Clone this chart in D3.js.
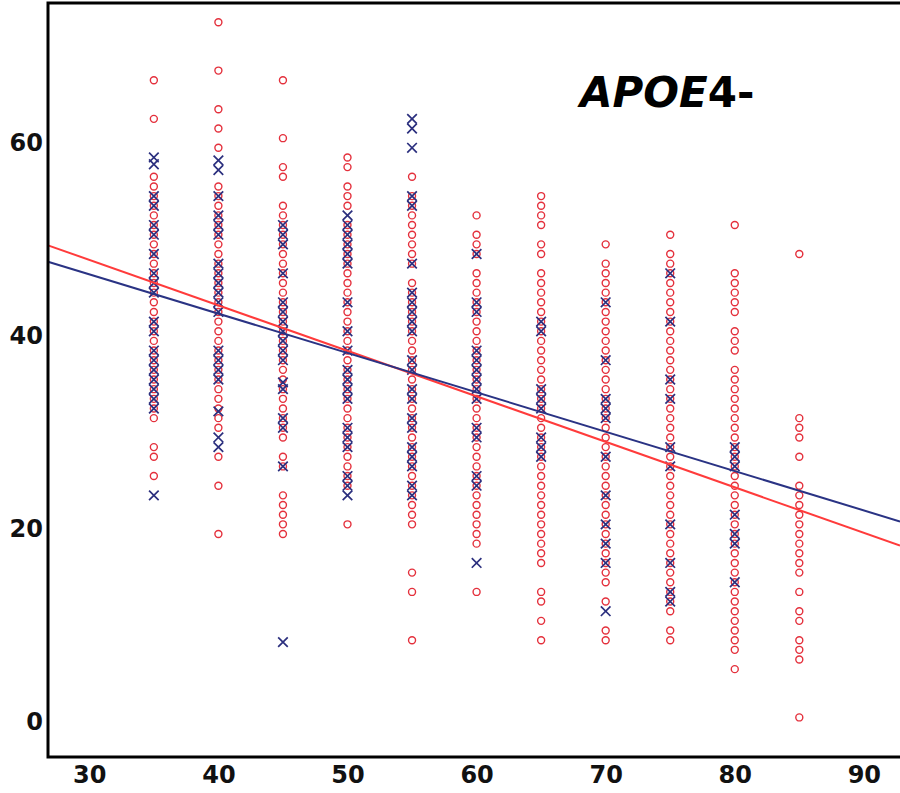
<!DOCTYPE html>
<html>
<head>
<meta charset="utf-8">
<script src="https://cdn.jsdelivr.net/npm/d3@7"></script>
<style>
  html, body { margin: 0; padding: 0; background: #fff; }
  svg { display: block; }
  .tick text { font-family: "DejaVu Sans", sans-serif; font-weight: bold; }
</style>
</head>
<body>
<svg id="chart" width="900" height="793"></svg>
<script>
// age groups (x) and scores per group
const ages = [35, 40, 45, 50, 55, 60, 65, 70, 75, 80, 85];

// red circles: group A
const circleVals = [
  [66.5, 62.5, 56.5, 55.5, 54.5, 53.5, 52.5, 51.5, 50.5, 49.5, 48.5, 47.5, 46.5, 45.5, 44.5, 43.5, 42.5, 41.5, 40.5, 39.5, 38.5, 37.5, 36.5, 35.5, 34.5, 33.5, 32.5, 31.5, 28.5, 27.5, 25.5],
  [72.5, 67.5, 63.5, 61.5, 59.5, 55.5, 54.5, 53.5, 52.5, 51.5, 50.5, 49.5, 48.5, 47.5, 46.5, 45.5, 44.5, 43.5, 42.5, 41.5, 40.5, 39.5, 38.5, 37.5, 36.5, 35.5, 34.5, 33.5, 32.5, 31.5, 30.5, 27.5, 24.5, 19.5],
  [66.5, 60.5, 57.5, 56.5, 53.5, 52.5, 51.5, 50.5, 49.5, 48.5, 47.5, 46.5, 45.5, 44.5, 43.5, 42.5, 41.5, 40.5, 39.5, 38.5, 37.5, 36.5, 35.5, 34.5, 33.5, 32.5, 31.5, 30.5, 29.5, 27.5, 26.5, 23.5, 22.5, 21.5, 20.5, 19.5],
  [58.5, 57.5, 55.5, 54.5, 53.5, 51.5, 50.5, 49.5, 48.5, 47.5, 46.5, 45.5, 44.5, 43.5, 42.5, 41.5, 40.5, 39.5, 38.5, 37.5, 36.5, 35.5, 34.5, 33.5, 32.5, 31.5, 30.5, 29.5, 28.5, 27.5, 26.5, 25.5, 24.5, 20.5],
  [56.5, 54.5, 53.5, 52.5, 51.5, 50.5, 49.5, 48.5, 47.5, 45.5, 44.5, 43.5, 42.5, 41.5, 40.5, 39.5, 38.5, 37.5, 36.5, 35.5, 34.5, 33.5, 32.5, 31.5, 30.5, 29.5, 28.5, 27.5, 26.5, 25.5, 24.5, 23.5, 22.5, 21.5, 20.5, 15.5, 13.5, 8.5],
  [52.5, 50.5, 49.5, 48.5, 46.5, 45.5, 44.5, 43.5, 42.5, 41.5, 40.5, 39.5, 38.5, 37.5, 36.5, 35.5, 34.5, 33.5, 32.5, 31.5, 30.5, 29.5, 28.5, 27.5, 26.5, 25.5, 24.5, 23.5, 22.5, 21.5, 20.5, 19.5, 18.5, 13.5],
  [54.5, 53.5, 52.5, 51.5, 49.5, 48.5, 46.5, 45.5, 44.5, 43.5, 42.5, 41.5, 40.5, 39.5, 38.5, 37.5, 36.5, 35.5, 34.5, 33.5, 32.5, 31.5, 30.5, 29.5, 28.5, 27.5, 26.5, 25.5, 24.5, 23.5, 22.5, 21.5, 20.5, 19.5, 18.5, 17.5, 16.5, 13.5, 12.5, 10.5, 8.5],
  [49.5, 47.5, 46.5, 45.5, 44.5, 43.5, 42.5, 41.5, 40.5, 39.5, 38.5, 37.5, 36.5, 35.5, 34.5, 33.5, 32.5, 31.5, 30.5, 29.5, 28.5, 27.5, 26.5, 25.5, 24.5, 23.5, 22.5, 21.5, 20.5, 19.5, 18.5, 17.5, 16.5, 15.5, 14.5, 12.5, 9.5, 8.5],
  [50.5, 48.5, 47.5, 46.5, 45.5, 44.5, 43.5, 42.5, 41.5, 40.5, 39.5, 38.5, 37.5, 36.5, 35.5, 34.5, 33.5, 32.5, 31.5, 30.5, 29.5, 28.5, 27.5, 26.5, 25.5, 24.5, 23.5, 22.5, 21.5, 20.5, 19.5, 18.5, 17.5, 16.5, 15.5, 14.5, 13.5, 12.5, 11.5, 9.5, 8.5],
  [51.5, 46.5, 45.5, 44.5, 43.5, 42.5, 40.5, 39.5, 38.5, 36.5, 35.5, 34.5, 33.5, 32.5, 31.5, 30.5, 29.5, 28.5, 27.5, 26.5, 25.5, 24.5, 23.5, 22.5, 21.5, 20.5, 19.5, 18.5, 17.5, 16.5, 15.5, 14.5, 13.5, 12.5, 11.5, 10.5, 9.5, 8.5, 7.5, 5.5],
  [48.5, 31.5, 30.5, 29.5, 27.5, 24.5, 23.5, 22.5, 21.5, 20.5, 19.5, 18.5, 17.5, 16.5, 15.5, 13.5, 11.5, 10.5, 8.5, 7.5, 6.5, 0.5]
];

// navy crosses: group B
const crossVals = [
  [58.5, 57.8, 54.5, 53.5, 51.5, 50.5, 48.5, 46.5, 45.5, 44.5, 41.5, 40.5, 38.5, 37.5, 36.5, 35.5, 34.5, 33.5, 32.5, 23.5],
  [58.2, 57.2, 54.5, 52.5, 51.5, 50.5, 47.5, 46.5, 45.5, 44.5, 43.5, 42.5, 38.5, 37.5, 36.5, 35.5, 32.2, 29.5, 28.5],
  [51.5, 50.5, 49.5, 46.5, 43.5, 42.5, 41.5, 40.5, 39.5, 38.5, 37.5, 35.2, 34.5, 31.5, 30.5, 26.5, 8.3],
  [52.5, 51.5, 50.5, 49.5, 48.5, 47.5, 43.5, 40.5, 38.5, 36.5, 35.5, 34.5, 33.5, 30.5, 29.5, 28.5, 25.5, 24.5, 23.5],
  [62.5, 61.5, 59.5, 54.5, 53.5, 47.5, 44.5, 43.5, 42.5, 41.5, 40.5, 37.5, 36.5, 34.5, 33.5, 31.5, 30.5, 28.5, 27.5, 26.5, 24.5, 23.5],
  [48.5, 43.5, 42.5, 38.5, 37.5, 36.5, 35.5, 34.5, 33.5, 30.5, 29.5, 25.5, 24.5, 16.5],
  [41.5, 40.5, 34.5, 33.5, 32.5, 29.5, 28.5, 27.5],
  [43.5, 37.5, 33.5, 32.5, 31.5, 27.5, 23.5, 20.5, 18.5, 16.5, 11.5],
  [46.5, 41.5, 35.5, 33.5, 28.5, 26.5, 20.5, 16.5, 13.5, 12.5],
  [28.5, 27.5, 26.5, 21.5, 19.5, 18.5, 14.5],
  []
];

// fitted lines, end points at the axis limits
const lineX = [26.8, 92.8];
const redLineY = [49.4, 18.3];
const blueLineY = [47.7, 20.8];

const xTicks = [30, 40, 50, 60, 70, 80, 90];
const yTicks = [0, 20, 40, 60];

const svg = d3.select("#chart");
const W = 900, H = 793;
const margin = { top: 3, right: 0, bottom: 36, left: 48 };

const x = d3.scaleLinear().domain([26.8, 92.8]).range([margin.left, W - margin.right]);
const y = d3.scaleLinear().domain([-3.6, 74.5]).range([H - margin.bottom, margin.top]);

const RED = "#e4303c", NAVY = "#2b2f7e";

const plot = svg.append("g");

// circles
const circles = [];
ages.forEach((a, i) => circleVals[i].forEach(v => circles.push({ a, v })));
plot.selectAll("circle.pt")
  .data(circles)
  .enter().append("circle")
  .attr("class", "pt")
  .attr("cx", d => x(d.a))
  .attr("cy", d => y(d.v))
  .attr("r", 3.5)
  .attr("fill", "none")
  .attr("stroke", RED)
  .attr("stroke-width", 1.4);

// crosses
const crosses = [];
ages.forEach((a, i) => crossVals[i].forEach(v => crosses.push({ a, v })));
const s = 4.8;
plot.selectAll("path.cross")
  .data(crosses)
  .enter().append("path")
  .attr("class", "cross")
  .attr("d", d => {
    const cx = x(d.a), cy = y(d.v);
    return `M${cx - s},${cy - s}L${cx + s},${cy + s}M${cx - s},${cy + s}L${cx + s},${cy - s}`;
  })
  .attr("stroke", NAVY)
  .attr("stroke-width", 1.7)
  .attr("fill", "none");

// regression lines
const line = d3.line().x(d => x(d[0])).y(d => y(d[1]));
plot.append("path")
  .attr("d", line(lineX.map((v, i) => [v, redLineY[i]])))
  .attr("stroke", "#ff3b3b").attr("stroke-width", 2).attr("fill", "none");
plot.append("path")
  .attr("d", line(lineX.map((v, i) => [v, blueLineY[i]])))
  .attr("stroke", "#2a3384").attr("stroke-width", 2).attr("fill", "none");

// axes
const gx = svg.append("g")
  .attr("transform", `translate(0,${H - margin.bottom})`)
  .call(d3.axisBottom(x).tickValues(xTicks).tickSize(0).tickPadding(9));
gx.select(".domain").remove();
gx.selectAll("text").attr("font-size", 24).attr("fill", "#111");

const gy = svg.append("g")
  .attr("transform", `translate(${margin.left},0)`)
  .call(d3.axisLeft(y).tickValues(yTicks).tickSize(0).tickPadding(5));
gy.select(".domain").remove();
gy.selectAll("text").attr("font-size", 24).attr("fill", "#111");

// spines: left, bottom, top
svg.append("path")
  .attr("d", `M${W},${margin.top}H${margin.left}V${H - margin.bottom}H${W}`)
  .attr("stroke", "#000").attr("stroke-width", 3).attr("fill", "none");

// label
const t = svg.append("text")
  .attr("x", 580).attr("y", 107)
  .attr("font-family", "DejaVu Sans, sans-serif")
  .attr("font-weight", "bold")
  .attr("font-size", 42)
  .attr("fill", "#000");
t.append("tspan").attr("font-style", "italic").text("APOE");
t.append("tspan").text("4-");
</script>
</body>
</html>
